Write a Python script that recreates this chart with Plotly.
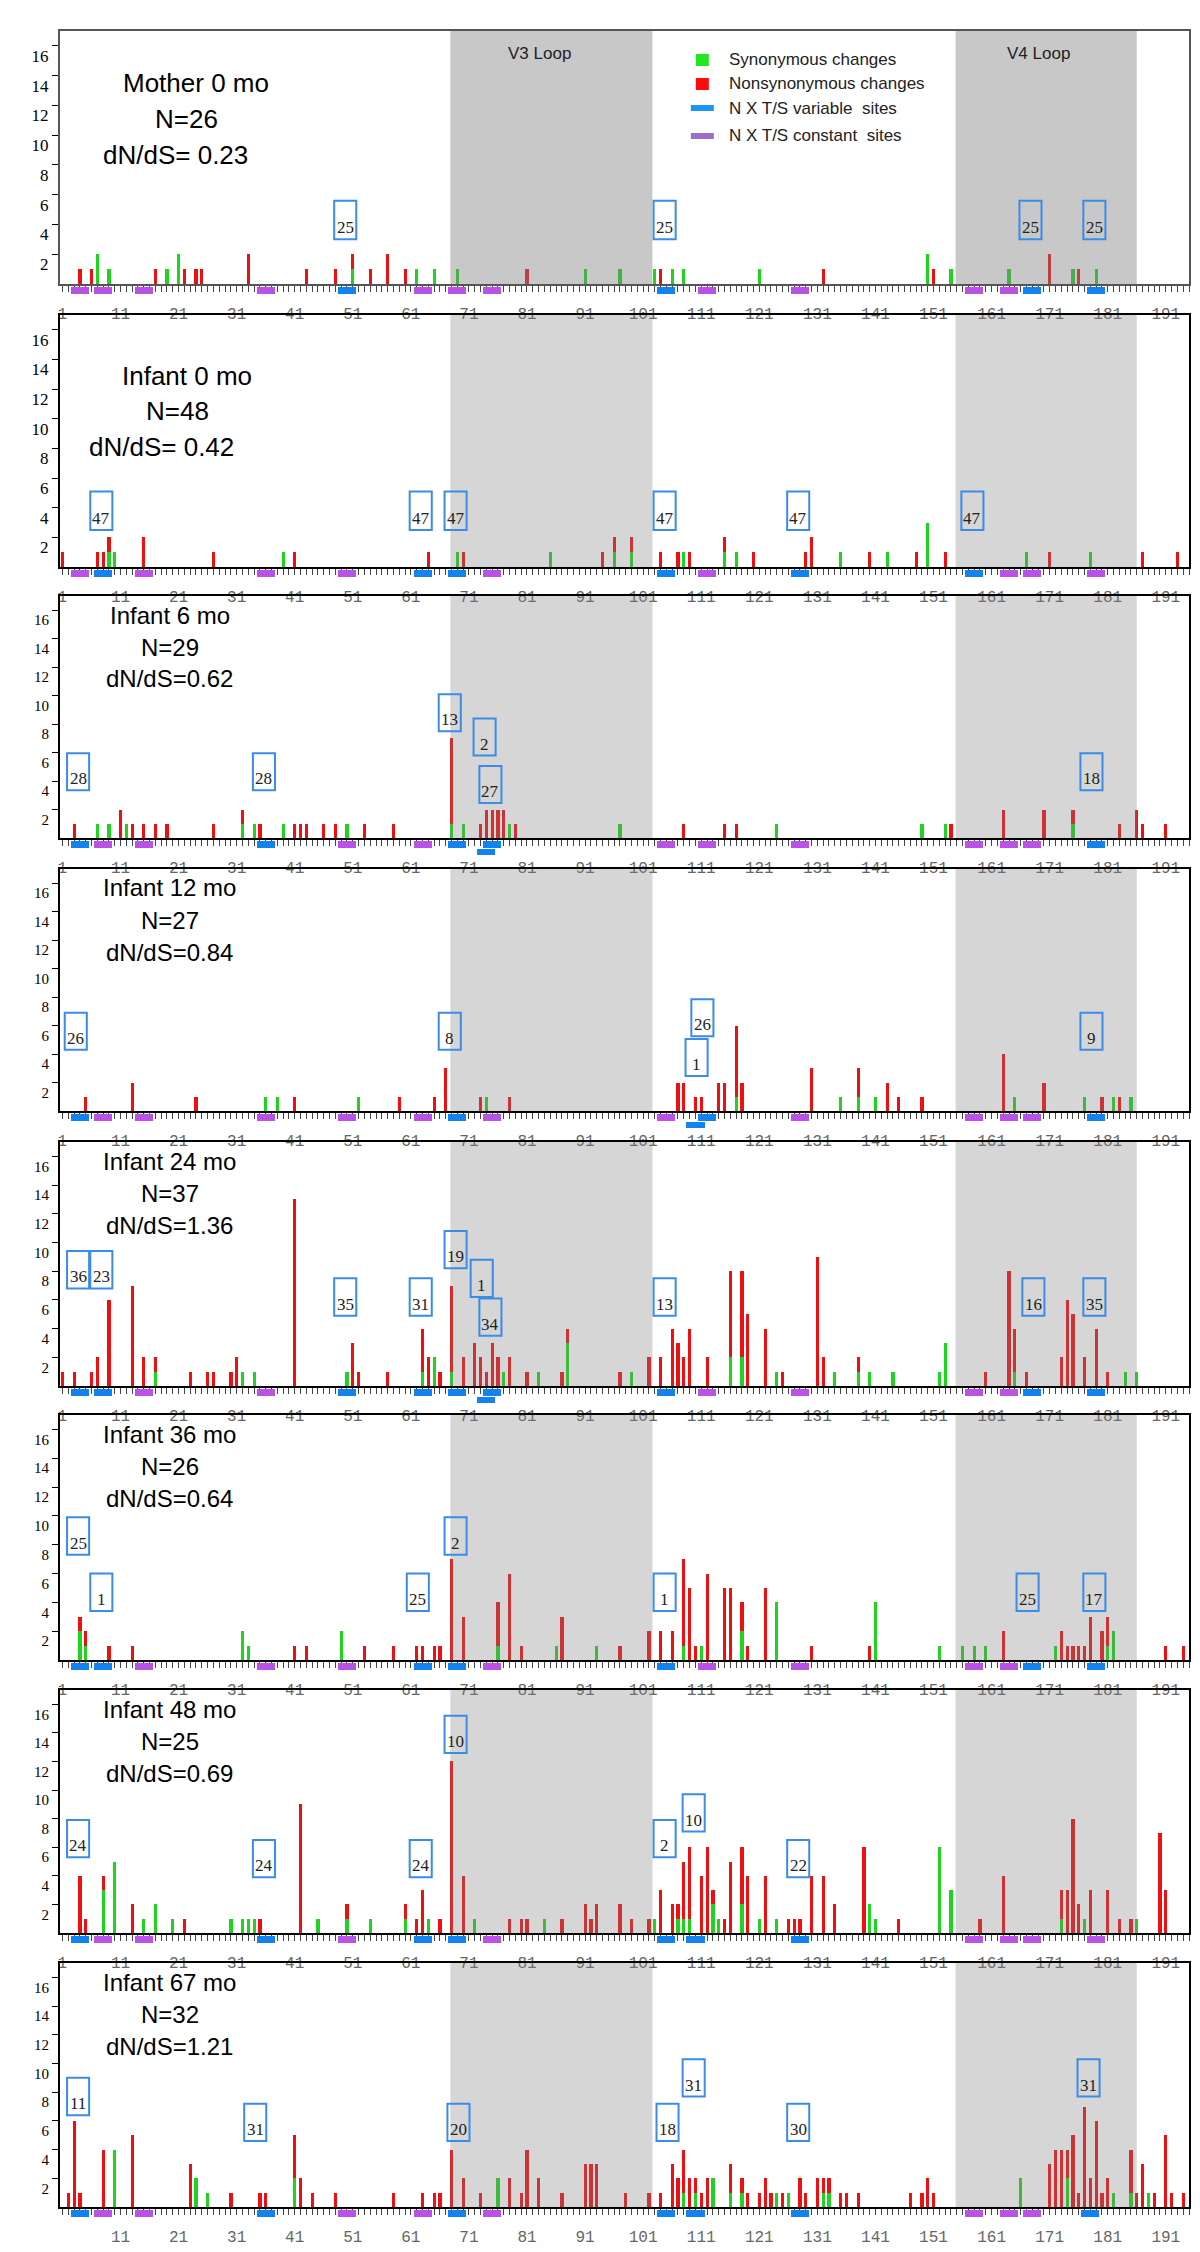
import plotly.graph_objects as go

W, H = 1200, 2252

# ---------------- data ----------------
TITLES = ["Mother 0 mo", "Infant 0 mo", "Infant 6 mo", "Infant 12 mo",
          "Infant 24 mo", "Infant 36 mo", "Infant 48 mo", "Infant 67 mo"]
N_SEQ = [26, 48, 29, 27, 37, 26, 25, 32]
DNDS = ["dN/dS= 0.23", "dN/dS= 0.42", "dN/dS=0.62", "dN/dS=0.84",
        "dN/dS=1.36", "dN/dS=0.64", "dN/dS=0.69", "dN/dS=1.21"]

X_LABELS = list(range(1, 192, 10))
Y_TICKS = [2, 4, 6, 8, 10, 12, 14, 16]
V3_LOOP = (67.8, 102.6)
V4_LOOP = (154.8, 186.0)

# synonymous / nonsynonymous counts per codon position
M0_SYN = {7: 2, 9: 1, 19: 1, 21: 2, 51: 1, 62: 1, 65: 1, 69: 1, 91: 1, 97: 1, 103: 1,
          106: 1, 108: 1, 121: 1, 150: 2, 154: 1, 164: 1, 175: 1, 179: 1}
M0_NON = {4: 1, 6: 1, 17: 1, 22: 1, 24: 1, 25: 1, 33: 2, 43: 1, 48: 1, 51: 1, 54: 1,
          57: 2, 60: 1, 81: 1, 104: 1, 132: 1, 151: 1, 171: 2, 176: 1}

I0_SYN = {9: 1, 10: 1, 39: 1, 69: 1, 85: 1, 96: 1, 99: 1, 108: 1, 115: 1, 117: 1,
          135: 1, 143: 1, 150: 3, 167: 1, 178: 1}
I0_NON = {1: 1, 7: 1, 8: 1, 9: 1, 15: 2, 27: 1, 41: 1, 64: 1, 70: 1, 94: 1, 96: 1,
          99: 1, 104: 1, 107: 1, 109: 1, 115: 1, 120: 1, 129: 1, 130: 2, 140: 1,
          148: 1, 153: 1, 171: 1, 187: 1, 193: 1}

I6_SYN = {7: 1, 9: 1, 12: 1, 32: 1, 34: 1, 39: 1, 50: 1, 68: 1, 70: 1, 78: 1, 97: 1,
          124: 1, 149: 1, 153: 1, 175: 1}
I6_NON = {3: 1, 11: 2, 13: 1, 15: 1, 17: 1, 19: 1, 27: 1, 32: 1, 35: 1, 41: 1, 42: 1,
          43: 1, 46: 1, 48: 1, 53: 1, 58: 1, 68: 6, 73: 1, 74: 2, 75: 2, 76: 2, 77: 2,
          79: 1, 108: 1, 115: 1, 117: 1, 154: 1, 163: 2, 170: 2, 175: 1, 183: 1,
          186: 2, 187: 1, 191: 1}

I12_SYN = {36: 1, 38: 1, 52: 1, 74: 1, 117: 1, 135: 1, 138: 1, 141: 1, 165: 1, 177: 1,
           182: 1, 185: 1}
I12_NON = {5: 1, 13: 2, 24: 1, 41: 1, 59: 1, 65: 1, 67: 3, 73: 1, 78: 1, 107: 2,
           108: 2, 110: 1, 111: 1, 114: 2, 115: 2, 117: 5, 118: 2, 130: 3, 138: 2,
           143: 2, 145: 1, 149: 1, 163: 4, 170: 2, 180: 1, 183: 1}

I24_SYN = {17: 1, 32: 1, 34: 1, 50: 1, 63: 1, 65: 2, 68: 1, 77: 1, 83: 1, 88: 3,
           99: 1, 116: 2, 118: 2, 124: 1, 134: 1, 138: 1, 140: 1, 144: 1, 152: 1,
           153: 3, 165: 1, 184: 1, 186: 1}
I24_NON = {1: 1, 3: 1, 6: 1, 7: 2, 9: 6, 13: 7, 15: 2, 17: 1, 23: 1, 26: 1, 27: 1,
           30: 1, 31: 2, 41: 13, 51: 3, 52: 1, 57: 1, 63: 3, 64: 2, 66: 1, 68: 6,
           70: 2, 72: 3, 73: 2, 74: 1, 75: 3, 76: 2, 78: 2, 81: 1, 87: 1, 88: 1,
           97: 1, 102: 2, 104: 2, 106: 4, 107: 3, 108: 2, 109: 4, 112: 2, 116: 6,
           118: 6, 119: 5, 122: 4, 125: 1, 131: 9, 132: 2, 138: 1, 160: 1, 164: 8,
           165: 3, 167: 1, 173: 2, 174: 6, 175: 5, 177: 2, 179: 4, 181: 1}

I36_SYN = {4: 2, 5: 1, 32: 2, 33: 1, 49: 2, 76: 1, 86: 1, 93: 1, 108: 1, 111: 1,
           118: 2, 124: 4, 141: 4, 152: 1, 156: 1, 158: 1, 160: 1, 172: 1, 181: 1, 182: 2}
I36_NON = {4: 1, 5: 1, 9: 1, 13: 1, 41: 1, 43: 1, 53: 1, 58: 1, 62: 1, 63: 1, 65: 1,
           66: 1, 68: 7, 70: 3, 76: 3, 78: 6, 80: 1, 87: 3, 97: 1, 102: 2, 104: 2,
           106: 2, 108: 6, 109: 5, 110: 1, 112: 6, 115: 5, 116: 5, 118: 2, 119: 1,
           122: 5, 130: 1, 140: 1, 163: 2, 173: 2, 174: 1, 175: 1, 176: 1, 177: 1,
           178: 3, 180: 2, 181: 2, 191: 1, 194: 1}

I48_SYN = {8: 3, 10: 5, 15: 1, 17: 2, 20: 1, 30: 1, 32: 1, 33: 1, 34: 1, 45: 1, 50: 1,
           54: 1, 60: 1, 64: 1, 72: 1, 84: 1, 103: 1, 107: 1, 108: 1, 109: 1, 113: 2,
           114: 1, 118: 2, 121: 1, 124: 1, 140: 2, 141: 1, 152: 6, 154: 3, 173: 1,
           177: 1, 186: 1}
I48_NON = {4: 4, 5: 1, 8: 1, 13: 2, 22: 1, 35: 1, 42: 9, 50: 1, 60: 1, 62: 1, 63: 3,
           66: 1, 68: 12, 70: 4, 78: 1, 80: 1, 81: 1, 87: 1, 91: 2, 92: 1, 93: 2,
           97: 2, 99: 1, 102: 1, 104: 3, 106: 2, 107: 1, 108: 4, 109: 5, 111: 4,
           112: 6, 113: 1, 115: 1, 116: 5, 118: 4, 119: 4, 122: 4, 126: 1, 127: 1,
           128: 1, 130: 4, 132: 4, 134: 2, 139: 6, 145: 1, 159: 1, 163: 4, 173: 2,
           174: 3, 175: 8, 176: 2, 178: 3, 181: 3, 183: 1, 185: 1, 190: 7, 191: 3}

I67_SYN = {10: 4, 24: 2, 26: 1, 41: 2, 76: 2, 108: 1, 110: 1, 113: 2, 116: 1, 118: 1,
           124: 1, 126: 1, 132: 1, 133: 1, 166: 2, 174: 2, 182: 1, 185: 1, 188: 1}
I67_NON = {2: 1, 3: 6, 4: 1, 8: 4, 13: 5, 23: 3, 30: 1, 35: 1, 36: 1, 41: 3, 42: 2,
           44: 1, 48: 1, 58: 1, 63: 1, 65: 1, 66: 1, 68: 4, 70: 2, 73: 1, 78: 2, 80: 1,
           81: 4, 83: 2, 87: 1, 91: 3, 92: 3, 93: 3, 98: 1, 102: 1, 104: 1, 106: 3,
           107: 2, 108: 3, 109: 2, 110: 1, 111: 1, 112: 2, 116: 2, 118: 1, 119: 1,
           121: 1, 122: 2, 123: 1, 125: 1, 128: 2, 129: 1, 131: 2, 132: 1, 133: 1,
           135: 1, 136: 1, 138: 1, 147: 1, 149: 1, 150: 2, 151: 1, 171: 3, 172: 4,
           173: 4, 174: 2, 175: 5, 176: 1, 177: 7, 178: 2, 179: 6, 180: 1, 181: 2,
           185: 3, 186: 1, 187: 3, 189: 1, 191: 5, 192: 1, 194: 1}

SYN = [M0_SYN, I0_SYN, I6_SYN, I12_SYN, I24_SYN, I36_SYN, I48_SYN, I67_SYN]
NON = [M0_NON, I0_NON, I6_NON, I12_NON, I24_NON, I36_NON, I48_NON, I67_NON]

# N-X-T/S sequon centres: variable (blue), constant (purple), second row (blue)
SITES_VAR = [[50, 105, 168, 179],
             [8, 63, 69, 105, 128, 158],
             [4, 36, 69, 75, 179],
             [4, 69, 112, 179],
             [4, 8, 50, 63, 69, 75, 105, 168, 179],
             [4, 8, 63, 69, 105, 168, 179],
             [4, 36, 63, 69, 105, 110, 128],
             [4, 36, 69, 105, 110, 128, 178]]
SITES_CON = [[4, 8, 15, 36, 63, 69, 75, 112, 128, 158, 164],
             [4, 15, 36, 50, 75, 112, 164, 168, 179],
             [8, 15, 50, 63, 105, 112, 128, 158, 164, 168],
             [8, 15, 36, 50, 63, 75, 105, 128, 158, 164, 168],
             [15, 36, 112, 128, 158, 164],
             [15, 36, 50, 75, 112, 128, 158, 164],
             [8, 15, 50, 75, 158, 164, 168, 179],
             [8, 15, 50, 63, 75, 158, 164, 168]]
SITES_ROW2 = [[], [], [74], [110], [74], [], [], []]

# boxed sequon counts: position, label, level of box bottom
BOX_POS = [[50, 105, 168, 179],
           [8, 63, 69, 105, 128, 158],
           [4, 36, 68, 74, 75, 178.5],
           [3.6, 68, 111.5, 110.5, 178.5],
           [4, 8, 50, 63, 69, 73.5, 75, 105, 168.5, 179],
           [4, 8, 62.5, 69, 105, 167.5, 179],
           [4, 36, 63, 69, 105, 110, 128],
           [4, 34.5, 69.5, 105.5, 110, 128, 178]]
BOX_LAB = [[25, 25, 25, 25],
           [47, 47, 47, 47, 47, 47],
           [28, 28, 13, 2, 27, 18],
           [26, 8, 26, 1, 9],
           [36, 23, 35, 31, 19, 1, 34, 13, 16, 35],
           [25, 1, 25, 2, 1, 25, 17],
           [24, 24, 24, 10, 2, 10, 22],
           [11, 31, 20, 18, 31, 30, 31]]
BOX_LVL = [[3.0, 3.0, 3.0, 3.0],
           [2.5, 2.5, 2.5, 2.5, 2.5, 2.5],
           [3.35, 3.35, 7.5, 5.8, 2.45, 3.35],
           [4.3, 4.3, 5.25, 2.45, 4.3],
           [6.8, 6.8, 4.9, 4.9, 8.2, 6.2, 3.5, 4.9, 4.9, 4.9],
           [7.3, 3.4, 3.4, 7.3, 3.4, 3.4, 3.4],
           [5.3, 3.9, 3.9, 12.6, 5.3, 7.1, 3.9],
           [6.4, 4.6, 4.6, 4.6, 7.7, 4.6, 7.7]]

LEGEND = ["Synonymous changes", "Nonsynonymous changes",
          "N X T/S variable  sites", "N X T/S constant  sites"]

# ---------------- layout geometry (px) ----------------
PANEL_TOP = [23, 307, 588, 861, 1134, 1407, 1682, 1955]
PANEL_AXIS = [276, 559, 830, 1103, 1378, 1652, 1925, 2199]
Y_MAX = 17.0
PLOT_L, PLOT_R = 50, 1181
X_RANGE = [0.57, 195.0]

GREEN = "#1fd41f"
RED = "#ee1010"
BLUE = "#1282ee"
PURPLE = "#bb52e6"
BOXBLUE = "#3a8ce6"

fig = go.Figure()
layout = dict(width=W, height=H, margin=dict(l=0, r=0, t=0, b=0),
              paper_bgcolor="white", plot_bgcolor="white", showlegend=False,
              barmode="stack", bargap=0)
shapes, annos = [], []


def fy(py):
    return 1 - py / H


for i in range(8):
    k = i + 1
    sfx = "" if k == 1 else str(k)
    xa, ya, sa = f"x{sfx}", f"y{sfx}", f"y{k + 8}"
    top, axis = PANEL_TOP[i], PANEL_AXIS[i]
    line_col = "#555555" if i == 0 else "black"

    labels = X_LABELS if i < 7 else X_LABELS[1:]
    tv = list(range(1, 196))
    tt = [str(v) if v in labels else "" for v in tv]
    layout[f"xaxis{sfx}"] = dict(
        domain=[PLOT_L / W, PLOT_R / W], range=X_RANGE, anchor=ya,
        showline=True, linecolor=line_col, linewidth=2, mirror=True,
        ticks="outside", ticklen=6, tickwidth=1, tickcolor="#444",
        tickmode="array", tickvals=tv, ticktext=tt, ticklabelstandoff=8,
        tickfont=dict(family="Liberation Mono", size=16, color="#666"),
        showgrid=False, zeroline=False, fixedrange=True)
    layout[f"yaxis{sfx}"] = dict(
        domain=[fy(axis), fy(top)], range=[0, Y_MAX], anchor=xa,
        showline=True, linecolor=line_col, linewidth=2, mirror=True,
        ticks="outside", ticklen=6, tickcolor="black",
        tickvals=Y_TICKS, ticklabelshift=10,
        tickfont=dict(family="Liberation Serif", size=17 if i < 2 else 15, color="black"),
        showgrid=False, zeroline=False, fixedrange=True)
    layout[f"yaxis{k + 8}"] = dict(
        domain=[fy(axis + 17), fy(axis + 2.5)], range=[0, 2], anchor=xa,
        visible=False, fixedrange=True)

    syn, non = SYN[i], NON[i]
    fig.add_trace(go.Bar(x=list(syn.keys()), y=list(syn.values()), width=0.55,
                         marker=dict(color=GREEN, line=dict(width=0)),
                         xaxis=xa, yaxis=ya, hoverinfo="skip"))
    fig.add_trace(go.Bar(x=list(non.keys()), y=list(non.values()), width=0.55,
                         marker=dict(color=RED, line=dict(width=0)),
                         xaxis=xa, yaxis=ya, hoverinfo="skip"))
    for sites, col, base in ((SITES_VAR[i], BLUE, 1.0), (SITES_CON[i], PURPLE, 1.0),
                             (SITES_ROW2[i], BLUE, 0.0)):
        if sites:
            fig.add_trace(go.Bar(x=sites, y=[0.95] * len(sites), base=[base] * len(sites),
                                 width=3.1, marker=dict(color=col, line=dict(width=0)),
                                 xaxis=xa, yaxis=sa, hoverinfo="skip"))

    # loop shading
    alpha = 0.43 if i == 0 else 0.325
    for lo, hi in (V3_LOOP, V4_LOOP):
        shapes.append(dict(type="rect", xref=xa, yref=f"{ya} domain", x0=lo, x1=hi,
                           y0=0, y1=1, fillcolor="#808080", opacity=alpha,
                           line=dict(width=0), layer="above"))

    # boxes
    for pos, lab, lvl in zip(BOX_POS[i], BOX_LAB[i], BOX_LVL[i]):
        c = pos - 0.3
        shapes.append(dict(type="rect", xref=xa, yref=ya, x0=c - 1.9, x1=c + 1.9,
                           y0=lvl, y1=lvl + 2.6, line=dict(color=BOXBLUE, width=2),
                           fillcolor="rgba(0,0,0,0)", layer="above"))
        annos.append(dict(xref=xa, yref=ya, x=c, y=lvl + 0.8, text=str(lab),
                          showarrow=False, xanchor="center", yanchor="middle", borderpad=0,
                          font=dict(family="Liberation Serif", size=17, color="#222")))

    # panel text (three lines)
    if i == 0:
        spots, fs = [(186, 52), (177, 88), (166, 124)], 26
    elif i == 1:
        spots, fs = [(177, 61), (168, 96), (152, 132)], 26
    else:
        spots, fs = [(160, 19), (160, 51), (160, 83)], 24
    for (cx, dy), txt in zip(spots, [TITLES[i], f"N={N_SEQ[i]}", DNDS[i]]):
        annos.append(dict(xref="paper", yref="paper", x=cx / W, y=fy(top + dy),
                          text=txt, showarrow=False, xanchor="center", yanchor="middle",
                          borderpad=0,
                          font=dict(family="Liberation Sans", size=fs, color="black")))

# loop labels (panel 1)
annos.append(dict(xref="x", yref="paper", x=83.2, y=fy(45), text="V3 Loop", showarrow=False,
                  yanchor="middle", borderpad=0,
                  font=dict(family="Liberation Sans", size=17, color="#222")))
annos.append(dict(xref="x", yref="paper", x=169.0, y=fy(45), text="V4 Loop", showarrow=False,
                  yanchor="middle", borderpad=0,
                  font=dict(family="Liberation Sans", size=17, color="#222")))

# legend
leg_y = [52, 76, 100, 128]
leg_col = ["#22e622", "#ff0a0a", "#1e96f0", "#9b6ecd"]
for j, (txt, yy, col) in enumerate(zip(LEGEND, leg_y, leg_col)):
    if j < 2:
        shapes.append(dict(type="rect", xref="paper", yref="paper", x0=687 / W, x1=700 / W,
                           y0=fy(yy + 6), y1=fy(yy - 6), fillcolor=col, line=dict(width=0)))
    else:
        shapes.append(dict(type="rect", xref="paper", yref="paper", x0=682 / W, x1=705 / W,
                           y0=fy(yy + 3), y1=fy(yy - 3), fillcolor=col, line=dict(width=0)))
    annos.append(dict(xref="paper", yref="paper", x=719 / W, y=fy(yy), text=txt,
                      showarrow=False, xanchor="left", yanchor="middle", borderpad=0,
                      font=dict(family="Liberation Sans", size=17, color="#222")))

layout["shapes"] = shapes
layout["annotations"] = annos
fig.update_layout(**layout)
fig.write_html("out.html")
